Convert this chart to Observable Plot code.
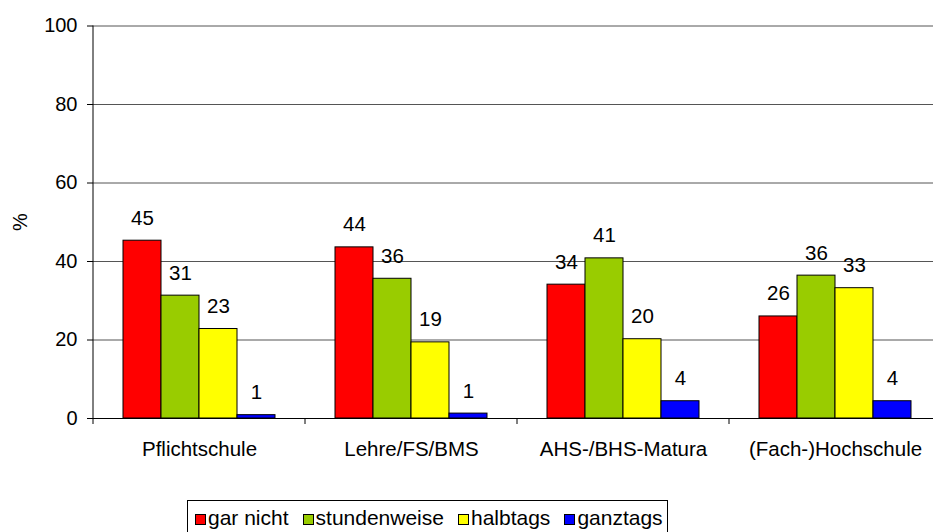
<!DOCTYPE html>
<html>
<head>
<meta charset="utf-8">
<script src="https://cdn.jsdelivr.net/npm/d3@7"></script>
<script src="https://cdn.jsdelivr.net/npm/@observablehq/plot@0.6"></script>
<style>
  html, body { margin: 0; padding: 0; background: #fff; overflow: hidden; }
  body { width: 933px; height: 532px; position: relative; font-family: "Liberation Sans", Arial, sans-serif; }
  #legend {
    position: absolute; left: 187px; top: 500px; width: 481px; height: 40px;
    border: 1px solid #000; box-sizing: border-box;
    display: flex; align-items: flex-start; padding-left: 7px;
  }
  #legend .item { display: flex; align-items: center; margin-right: 14px; height: 34px; font-size: 21px; color: #000; white-space: nowrap; }
  #legend .sw { width: 9px; height: 9px; border: 1px solid #000; margin-right: 2px; margin-top: 2px; flex: none; }
</style>
</head>
<body>
<div id="chart"></div>
<div id="legend"></div>
<script>
const categories = ["Pflichtschule", "Lehre/FS/BMS", "AHS-/BHS-Matura", "(Fach-)Hochschule"];
const series = ["gar nicht", "stundenweise", "halbtags", "ganztags"];
const garNicht    = [45.3, 43.6, 34.1, 26.0];
const stundenweise = [31.3, 35.6, 40.8, 36.4];
const halbtags    = [22.8, 19.4, 20.2, 33.2];
const ganztags    = [0.85, 1.25, 4.4, 4.4];
const colors = ["#FF0000", "#99CC00", "#FFFF00", "#0000FF"];
const yTicks = [0, 20, 40, 60, 80, 100];
const gridTicks = [20, 40, 60, 80, 100];

const seriesValues = [garNicht, stundenweise, halbtags, ganztags];
const data = [];
categories.forEach((c, i) => {
  series.forEach((s, j) => data.push({category: c, series: s, value: seriesValues[j][i]}));
});

const font = "Liberation Sans, Arial, sans-serif";

const chart = Plot.plot({
  width: 933,
  height: 490,
  marginLeft: 92,
  marginRight: -9,
  marginTop: 25,
  marginBottom: 72,
  style: {fontFamily: font, background: "white", color: "black", overflow: "visible"},
  fx: {domain: categories, padding: 0, label: null},
  x: {domain: series, paddingInner: 0, paddingOuter: 0.74, axis: null},
  y: {domain: [0, 100], range: [418, 25.5]},
  color: {domain: series, range: colors},
  marks: [
    Plot.ruleY(gridTicks, {stroke: "#555", strokeWidth: 1}),
    Plot.ruleY([0], {stroke: "#000", strokeWidth: 1}),
    Plot.barY(data, {fx: "category", x: "series", y: "value", fill: "series", stroke: "#000", strokeWidth: 1}),
    Plot.text(data, {fx: "category", x: "series", y: "value", text: d => Math.round(d.value), lineAnchor: "bottom", dy: -16, fontSize: 20.5, fill: "#000", fontFamily: font}),
    Plot.axisY({ticks: yTicks, tickSize: 6, tickPadding: 10, fontSize: 20, label: "%", labelArrow: "none", labelAnchor: "center", labelOffset: 81, stroke: "#000"}),
    Plot.axisFx({anchor: "bottom", tickSize: 0, tickPadding: 22.5, fontSize: 20.5, label: null})
  ]
});

document.getElementById("chart").appendChild(chart);

// axis line and category boundary ticks from the plot's own scales
const fx = chart.scale("fx");
const ys = chart.scale("y");
const y0 = ys.apply(0);
const yTop = ys.apply(100);
const svg = d3.select(chart);
const bounds = categories.map(c => fx.apply(c));
bounds.push(fx.apply(categories[categories.length - 1]) + fx.bandwidth);
svg.append("line")
  .attr("x1", bounds[0]).attr("x2", bounds[0])
  .attr("y1", yTop).attr("y2", y0 + 6)
  .attr("stroke", "#000");
bounds.slice(1).forEach(b => {
  svg.append("line").attr("x1", b).attr("x2", b).attr("y1", y0).attr("y2", y0 + 6).attr("stroke", "#000");
});

// legend
const legend = document.getElementById("legend");
series.forEach((s, i) => {
  const item = document.createElement("div");
  item.className = "item";
  const sw = document.createElement("div");
  sw.className = "sw";
  sw.style.background = colors[i];
  const t = document.createElement("span");
  t.textContent = s;
  item.appendChild(sw);
  item.appendChild(t);
  legend.appendChild(item);
});
</script>
</body>
</html>
